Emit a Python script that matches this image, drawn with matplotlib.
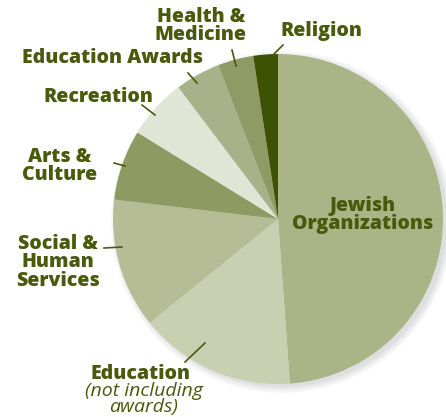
import matplotlib.pyplot as plt
from matplotlib.patches import Circle

# slice data, clockwise from 12 o'clock
labels = ['Jewish Organizations', 'Education (not including awards)', 'Social & Human Services',
          'Arts & Culture', 'Recreation', 'Education Awards', 'Health & Medicine', 'Religion']
shares = [48.8, 15.3, 12.7, 6.9, 5.9, 4.4, 3.5, 2.4]
colors = ['#aab487', '#c9cfb1', '#b6bd96', '#8d9b63', '#e1e5d5', '#a9b18a', '#8e9b65', '#3e5205']

text_color = '#4a5a0c'
W, H = 446, 417

fig = plt.figure(figsize=(W / 100, H / 100), dpi=100)
ax = fig.add_axes([0, 0, 1, 1])

def py(y):
    # image y (top down) -> data y
    return H - y

cx, cy, r = 278, py(219), 165

# soft drop shadow
for i, a in enumerate([0.05, 0.05, 0.06, 0.07]):
    ax.add_patch(Circle((cx + 4, cy - 3), r + 6 - 2 * i, color='#6b6b6b', alpha=a, lw=0, zorder=1))

ax.pie(shares, colors=colors, startangle=90, counterclock=False, center=(cx, cy), radius=r,
       wedgeprops=dict(linewidth=0, zorder=2), frame=True)
ax.set_xlim(0, W)
ax.set_ylim(0, H)
ax.axis('off')

bold = dict(color=text_color, fontsize=14, fontweight='heavy', family='Open Sans',
            ha='center', va='center', linespacing=0.9)

ax.text(201, py(26), 'Health &\nMedicine', **bold)
ax.text(321, py(31), 'Religion', **bold)
ax.text(112, py(58), 'Education Awards', **bold)
ax.text(98, py(97), 'Recreation', **bold)
ax.text(60, py(166), 'Arts &\nCulture', **bold)
ax.text(58, py(262), 'Social &\nHuman\nServices', **bold)
ax.text(363, py(215), 'Jewish\nOrganizations', **bold)
ax.text(141, py(374), 'Education', **bold)
ax.text(144, py(399), '(not including\nawards)', color=text_color, fontsize=14, style='italic',
        family='Open Sans', ha='center', va='center', linespacing=0.8)

# leader lines
leaders = [((274, 54), (283, 45)), ((232, 50), (236, 66)), ((188, 73), (197, 83)),
           ((142, 105), (155, 115)), ((114, 163), (125, 166)), ((104, 248), (122, 247)),
           ((185, 362), (205, 343))]
for (x0, y0), (x1, y1) in leaders:
    ax.plot([x0, x1], [py(y0), py(y1)], color=text_color, lw=1.2, zorder=3)

fig.savefig('out.png', dpi=100)
